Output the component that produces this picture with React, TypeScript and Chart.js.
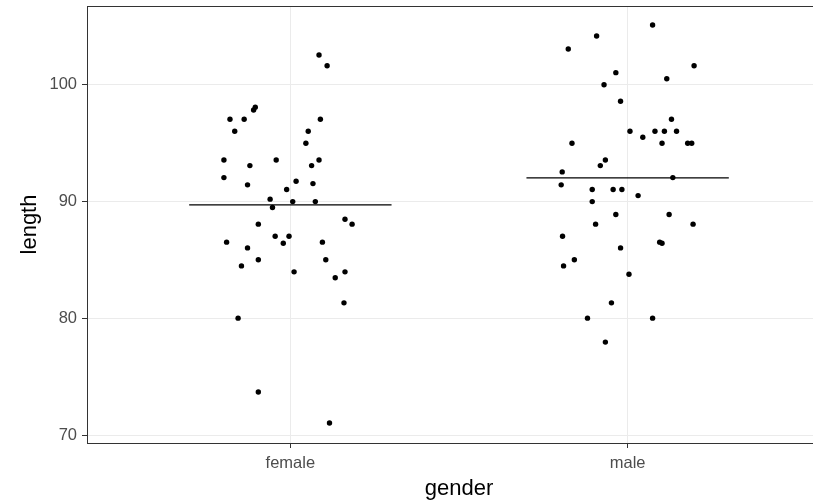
import React, { useEffect, useRef } from "react";
import { Chart, registerables } from "chart.js";

Chart.register(...registerables);

const categories = ["female", "male"];

const femaleJitter = [
  0.085, 0.109, -0.104, -0.109, -0.179, -0.137, 0.089, -0.165, 0.053, 0.046,
  -0.197, -0.042, 0.085, -0.12, 0.063, -0.197, -0.127, 0.017, 0.067, -0.011,
  -0.06, -0.053, 0.007, 0.074, 0.162, 0.183, -0.095, -0.189, -0.127, -0.045,
  -0.004, -0.021, 0.095, -0.095, -0.145, 0.011, 0.105, 0.133, 0.162, 0.159,
  -0.155, -0.095, 0.116,
];
const femaleLength = [
  102.54, 101.62, 98.07, 97.84, 97.04, 97.04, 97.04, 96.02, 96.02, 94.99,
  93.56, 93.56, 93.56, 93.08, 93.08, 92.05, 91.43, 91.74, 91.54, 91.03,
  90.21, 89.49, 90.0, 90.0, 88.49, 88.07, 88.07, 86.53, 86.04, 87.04,
  87.04, 86.44, 86.53, 85.02, 84.5, 83.99, 85.02, 83.48, 83.99, 81.34,
  80.03, 73.71, 71.06,
];

const maleJitter = [
  0.074, -0.092, -0.176, 0.197, -0.035, 0.116, -0.07, -0.021, 0.13, 0.007,
  0.081, 0.109, 0.145, 0.045, -0.165, 0.102, 0.178, 0.19, -0.066, -0.081,
  -0.194, 0.134, -0.197, -0.105, -0.043, -0.017, 0.031, -0.105, -0.035, 0.123,
  -0.095, 0.194, -0.193, -0.021, 0.095, 0.102, -0.158, -0.19, 0.004, -0.048,
  -0.119, 0.074, -0.066,
];
const maleLength = [
  105.1, 104.16, 103.05, 101.62, 101.03, 100.51, 100.0, 98.58, 97.04, 96.02,
  96.02, 96.02, 96.02, 95.5, 94.99, 94.99, 94.99, 94.99, 93.56, 93.08,
  92.54, 92.05, 91.43, 91.03, 91.03, 91.03, 90.51, 90.0, 88.89, 88.89,
  88.07, 88.07, 87.04, 86.04, 86.53, 86.44, 85.02, 84.5, 83.79, 81.34,
  80.03, 80.03, 77.98,
];

const groupMeans = [89.72, 92.03];
const meanHalfWidth = 0.3;

const yMajorTicks = [70, 80, 90, 100];
const yAllGrid = [70, 75, 80, 85, 90, 95, 100, 105];

const FONT = "'Liberation Sans', Arial, sans-serif";

export default function App() {
  const ref = useRef<HTMLCanvasElement | null>(null);

  useEffect(() => {
    if (!ref.current) return;
    const pts = (jit: number[], len: number[], pos: number) =>
      len.map((v, i) => ({ x: pos + jit[i], y: v }));

    const borderPlugin = {
      id: "panelBorder",
      afterDraw(chart: any) {
        const { ctx, chartArea } = chart;
        ctx.save();
        ctx.strokeStyle = "#333333";
        ctx.lineWidth = 1;
        ctx.strokeRect(
          chartArea.left - 0.5,
          chartArea.top + 0.5,
          chartArea.right - chartArea.left,
          chartArea.bottom - chartArea.top
        );
        ctx.restore();
      },
    };

    const chart = new Chart(ref.current, {
      type: "scatter",
      data: {
        datasets: [
          {
            label: categories[0],
            data: pts(femaleJitter, femaleLength, 1),
            backgroundColor: "#000000",
            borderColor: "#000000",
            pointRadius: 2.7,
            borderWidth: 0,
          },
          {
            label: categories[1],
            data: pts(maleJitter, maleLength, 2),
            backgroundColor: "#000000",
            borderColor: "#000000",
            pointRadius: 2.7,
            borderWidth: 0,
          },
          ...groupMeans.map((m, i) => ({
            type: "line" as const,
            label: categories[i] + " mean",
            data: [
              { x: i + 1 - meanHalfWidth, y: m },
              { x: i + 1 + meanHalfWidth, y: m },
            ],
            borderColor: "#000000",
            borderWidth: 1.1,
            pointRadius: 0,
            showLine: true,
          })),
        ],
      },
      options: {
        animation: false,
        responsive: false,
        layout: { padding: { top: 6, left: 0, right: 1, bottom: 0 } },
        plugins: { legend: { display: false }, tooltip: { enabled: false } },
        scales: {
          x: {
            type: "linear",
            min: 0.4,
            max: 2.6,
            afterBuildTicks: (s: any) => {
              s.ticks = categories.map((_, i) => ({ value: i + 1 }));
            },
            afterFit: (s: any) => {
              s.height = 57;
              s.paddingLeft = 0;
              s.paddingRight = 0;
            },
            ticks: {
              callback: (v: any) => categories[Math.round(Number(v)) - 1] ?? "",
              color: "#4d4d4d",
              font: { family: FONT, size: 16.5 },
              padding: 6,
              maxRotation: 0,
            },
            grid: {
              color: "#ebebeb",
              lineWidth: 1,
              tickLength: 5,
              tickColor: "#333333",
            },
            border: { display: false },
            title: {
              display: true,
              text: "gender",
              color: "#000000",
              font: { family: FONT, size: 22, lineHeight: 1 },
              padding: { top: 0, bottom: 0 },
            },
          },
          y: {
            type: "linear",
            min: 69.35,
            max: 106.73,
            afterBuildTicks: (s: any) => {
              s.ticks = yAllGrid.map((v) => ({ value: v }));
            },
            afterFit: (s: any) => {
              s.width = 88;
              s.paddingTop = 0;
              s.paddingBottom = 0;
            },
            ticks: {
              callback: (v: any) =>
                yMajorTicks.includes(Number(v)) ? String(v) : null,
              color: "#4d4d4d",
              font: { family: FONT, size: 16.5 },
              padding: 5,
            },
            grid: {
              color: (c: any) =>
                yMajorTicks.includes(c.tick?.value) ? "#ebebeb" : "#f3f3f3",
              lineWidth: 1,
              tickLength: 6,
              tickColor: (c: any) =>
                yMajorTicks.includes(c.tick?.value) ? "#333333" : "rgba(0,0,0,0)",
            },
            border: { display: false },
            title: {
              display: true,
              text: "length",
              color: "#000000",
              font: { family: FONT, size: 22, lineHeight: 1 },
              padding: { top: 19, bottom: 0 },
            },
          },
        },
      },
      plugins: [borderPlugin],
    } as any);

    return () => chart.destroy();
  }, []);

  return (
    <div
      style={{
        position: "fixed",
        left: 0,
        top: 0,
        width: 813,
        height: 500,
        overflow: "hidden",
        background: "#ffffff",
      }}
    >
      <canvas ref={ref} width={834} height={500} style={{ display: "block" }} />
    </div>
  );
}
